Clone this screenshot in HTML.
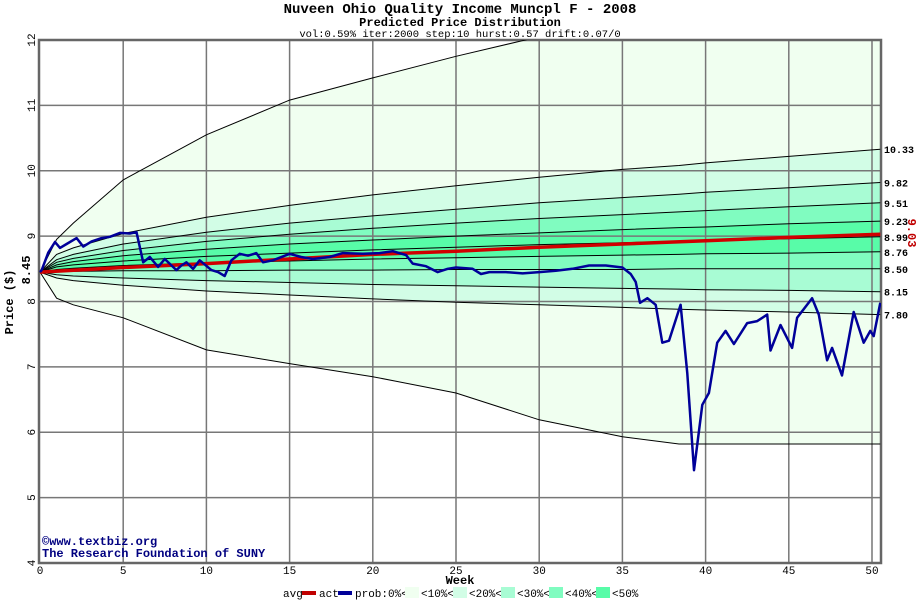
<!DOCTYPE html>
<html><head><meta charset="utf-8"><style>
body{margin:0;background:#fff;width:920px;height:600px;overflow:hidden}
svg{display:block}
text{font-family:"Liberation Mono",monospace}
</style></head><body>
<svg id="chart" width="920" height="600" xmlns="http://www.w3.org/2000/svg">
<text x="460" y="13" text-anchor="middle" font-size="14" font-weight="bold">Nuveen Ohio Quality Income Muncpl F - 2008</text>
<text x="460" y="26" text-anchor="middle" font-size="12" font-weight="bold">Predicted Price Distribution</text>
<text x="460" y="37" text-anchor="middle" font-size="10.5">vol:0.59% iter:2000 step:10 hurst:0.57 drift:0.07/0</text>
<defs><clipPath id="clip"><rect x="39" y="40" width="842" height="523"/></clipPath></defs>
<g id="bands" clip-path="url(#clip)"></g>
<g id="grid"></g>
<g id="lines" clip-path="url(#clip)"></g>
<g id="labels"></g>
<text transform="translate(13,302) rotate(-90)" text-anchor="middle" font-size="12" font-weight="bold">Price ($)</text>
<text transform="translate(30,270) rotate(-90)" text-anchor="middle" font-size="12" font-weight="bold">8.45</text>
<text transform="translate(908,233) rotate(90)" text-anchor="middle" font-size="12" font-weight="bold" fill="#c00000">9.03</text>
<text x="460" y="584" text-anchor="middle" font-size="12" font-weight="bold">Week</text>
<text x="42" y="545" font-size="12" font-weight="bold" fill="#000080">©www.textbiz.org</text>
<text x="42" y="557" font-size="12" font-weight="bold" fill="#000080">The Research Foundation of SUNY</text>
<g font-size="11">
<text x="283" y="597">avg</text><rect x="302" y="591" width="14" height="4" fill="#c00000"/>
<text x="319" y="597">act</text><rect x="338" y="591" width="14" height="4" fill="#000099"/>
<text x="355" y="597">prob:0%&lt;</text>
<rect x="405" y="587" width="14" height="11" fill="#f0fff0"/><text x="421" y="597">&lt;10%&lt;</text>
<rect x="453" y="587" width="14" height="11" fill="#d2fde6"/><text x="469" y="597">&lt;20%&lt;</text>
<rect x="501" y="587" width="14" height="11" fill="#a8fcd4"/><text x="517" y="597">&lt;30%&lt;</text>
<rect x="549" y="587" width="14" height="11" fill="#80fcc0"/><text x="565" y="597">&lt;40%&lt;</text>
<rect x="596" y="587" width="14" height="11" fill="#58fca8"/><text x="612" y="597">&lt;50%</text>
</g>
</svg>
<script>
const bandWeeks=[0,1,2,5,10,15,20,25,30,35,38.4,40,45,50.5];
const outerTop=[8.45,8.95,9.2,9.86,10.55,11.08,11.42,11.75,12.05,12.3,12.42,12.5,12.7,12.9];
const p90=[8.45,8.72,8.82,9.04,9.29,9.47,9.63,9.77,9.90,10.02,10.08,10.12,10.22,10.33];
const p80=[8.45,8.64,8.72,8.88,9.06,9.20,9.31,9.41,9.51,9.59,9.64,9.67,9.74,9.82];
const p70=[8.45,8.60,8.66,8.78,8.92,9.03,9.12,9.20,9.27,9.33,9.37,9.39,9.45,9.51];
const p60=[8.45,8.56,8.61,8.70,8.80,8.88,8.94,9.00,9.05,9.10,9.13,9.14,9.19,9.23];
const p50=[8.45,8.53,8.56,8.62,8.69,8.74,8.79,8.83,8.87,8.90,8.92,8.93,8.96,8.99];
const p40=[8.45,8.49,8.51,8.55,8.59,8.62,8.65,8.67,8.69,8.71,8.72,8.73,8.74,8.76];
const p30=[8.45,8.46,8.46,8.47,8.47,8.48,8.48,8.49,8.49,8.49,8.50,8.50,8.50,8.50];
const p20=[8.45,8.41,8.39,8.36,8.32,8.29,8.26,8.24,8.22,8.20,8.19,8.18,8.17,8.15];
const p10=[8.45,8.36,8.32,8.25,8.16,8.10,8.04,7.99,7.95,7.91,7.88,7.87,7.84,7.80];
const outerBot=[8.45,8.05,7.95,7.75,7.26,7.05,6.85,6.6,6.19,5.93,5.82,5.82,5.82,5.82];
const endLabels=["10.33","9.82","9.51","9.23","8.99","8.76","8.50","8.15","7.80"];
const avgWeeks=[0,5,10,15,20,25,30,35,40,45,50.5];
const avgVals=[8.45,8.52,8.58,8.65,8.72,8.77,8.83,8.88,8.93,8.98,9.03];
const actWeeks=[0,0.1,0.5,0.9,1.2,1.6,2.2,2.6,3.1,3.7,4.2,4.8,5.4,5.8,6.2,6.6,7.1,7.5,8.2,8.5,8.8,9.2,9.6,10.3,10.7,11.1,11.5,12,12.5,13,13.4,14,15,15.7,16.4,17.4,18.2,19.4,20.4,21.2,22,22.4,23.2,23.9,24.5,25,26,26.5,27,28,29,30,31,32,33,34,35,35.5,35.8,36.06,36.5,37,37.4,37.8,38.5,38.9,39.3,39.8,40.2,40.7,41.2,41.7,42.5,43.1,43.7,43.9,44.5,45.2,45.5,46.4,46.8,47.3,47.6,48.2,48.9,49.5,49.9,50.1,50.5];
const actVals=[8.45,8.48,8.75,8.91,8.82,8.88,8.97,8.84,8.92,8.97,8.99,9.05,9.04,9.06,8.6,8.68,8.53,8.65,8.48,8.55,8.6,8.5,8.63,8.48,8.45,8.39,8.63,8.73,8.7,8.74,8.6,8.63,8.73,8.68,8.65,8.68,8.74,8.73,8.74,8.77,8.71,8.58,8.54,8.45,8.5,8.52,8.5,8.42,8.45,8.45,8.43,8.45,8.47,8.5,8.55,8.55,8.52,8.42,8.3,7.98,8.05,7.95,7.37,7.4,7.95,6.9,5.42,6.42,6.6,7.37,7.55,7.35,7.67,7.7,7.8,7.25,7.64,7.29,7.75,8.05,7.8,7.1,7.29,6.87,7.84,7.37,7.55,7.47,7.98];
const xTicks=[0,5,10,15,20,25,30,35,40,45,50];
const yTicks=[4,5,6,7,8,9,10,11,12];

const X=w=>40+w*16.64, Y=p=>563-(p-4)*65.375;
const NS="http://www.w3.org/2000/svg";
function mk(tag,parent,attrs){const e=document.createElementNS(NS,tag);for(const k in attrs)e.setAttribute(k,attrs[k]);parent.appendChild(e);return e;}
function pts(ws,vs){return ws.map((w,i)=>X(w).toFixed(1)+","+Y(vs[i]).toFixed(1));}
const bandsG=document.getElementById('bands'),gridG=document.getElementById('grid'),linesG=document.getElementById('lines'),labG=document.getElementById('labels');
const levels=[outerTop,p90,p80,p70,p60,p40,p30,p20,p10,outerBot];
const cols=["#f0fff0","#d2fde6","#a8fcd4","#80fcc0","#58fca8","#80fcc0","#a8fcd4","#d2fde6","#f0fff0"];
for(let i=0;i<levels.length-1;i++){
  const a=pts(bandWeeks,levels[i]),b=pts(bandWeeks,levels[i+1]).reverse();
  const p=mk('polygon',bandsG,{points:a.concat(b).join(' '),fill:cols[i]});
  
  
}
xTicks.forEach(w=>{
  if(w>0){const l=mk('line',gridG,{x1:X(w),x2:X(w),y1:40,y2:563,stroke:'#777','stroke-width':1.5});
  
  }
  const t=mk('text',gridG,{x:X(w),y:574,'text-anchor':'middle','font-size':11});t.textContent=w;
  
  
});
yTicks.forEach(p=>{
  if(p>4&&p<12){const l=mk('line',gridG,{x1:39,x2:881,y1:Y(p),y2:Y(p),stroke:'#777','stroke-width':1.5});
  
  }
  const t=mk('text',gridG,{transform:`translate(35,${Y(p)}) rotate(-90)`,'text-anchor':'middle','font-size':11});t.textContent=p;
  
  
});
const fr=mk('rect',gridG,{x:39,y:40,width:842,height:523,fill:'none',stroke:'#666','stroke-width':2.5});


[outerTop,p90,p80,p70,p60,p50,p40,p30,p20,p10,outerBot].forEach((v,i)=>{
  const l=mk('polyline',linesG,{points:pts(bandWeeks,v).join(' '),fill:'none',stroke:'#000','stroke-width':1});
  
  
});
[p90,p80,p70,p60,p50,p40,p30,p20,p10].forEach((v,i)=>{
  const t=mk('text',labG,{x:884,y:Y(v[v.length-1])+4,'font-size':10,'font-weight':'bold'});t.textContent=endLabels[i];
  
  
});
const avg=mk('polyline',linesG,{points:pts(avgWeeks,avgVals).join(' '),fill:'none',stroke:'#d00000','stroke-width':3.5});


const act=mk('polyline',linesG,{points:pts(actWeeks,actVals).join(' '),fill:'none',stroke:'#000099','stroke-width':2.5,'stroke-linejoin':'round'});


</script>
</body></html>
